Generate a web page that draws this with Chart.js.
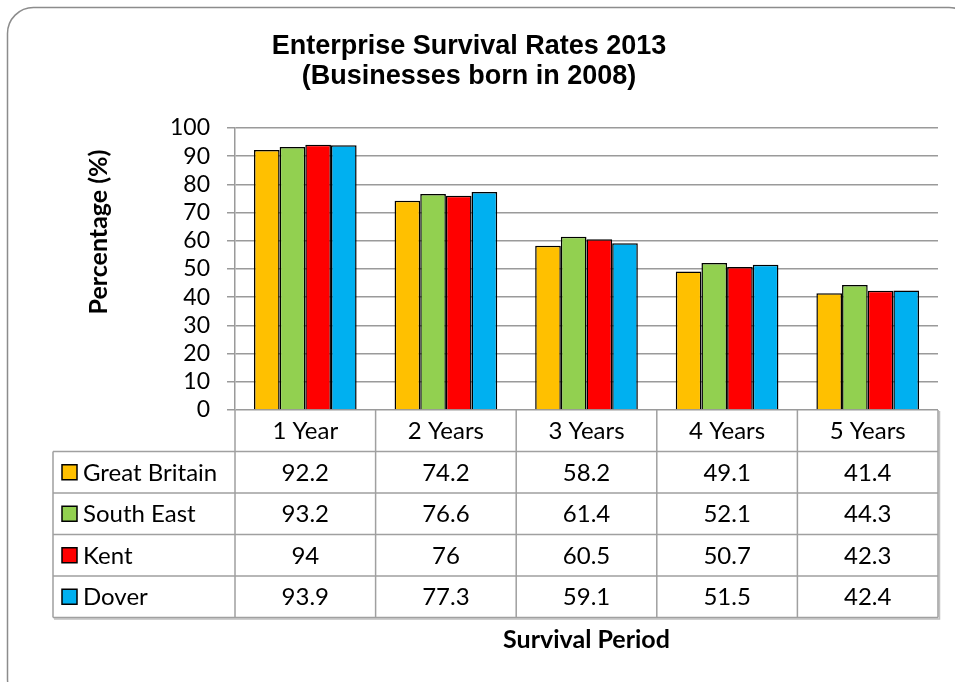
<!DOCTYPE html>
<html>
<head>
<meta charset="utf-8">
<script src="https://cdn.jsdelivr.net/npm/chart.js@4"></script>
<style>
html,body{margin:0;padding:0;background:#fff;}
canvas{display:block;}
</style>
</head>
<body>
<canvas id="c" width="955" height="682"></canvas>
<script>
const categories = ['1 Year', '2 Years', '3 Years', '4 Years', '5 Years'];
const seriesNames = ['Great Britain', 'South East', 'Kent', 'Dover'];
const greatBritain = [92.2, 74.2, 58.2, 49.1, 41.4];
const southEast = [93.2, 76.6, 61.4, 52.1, 44.3];
const kent = [94, 76, 60.5, 50.7, 42.3];
const dover = [93.9, 77.3, 59.1, 51.5, 42.4];
const seriesColors = ['#FFC000', '#92D050', '#FF0000', '#00B0F0'];
const titleLines = ['Enterprise Survival Rates 2013', '(Businesses born in 2008)'];
const yAxisTitle = 'Percentage (%)';
const xAxisTitle = 'Survival Period';

const BODY_FONT = 'Lato, "Open Sans", sans-serif';
const LINE = '#a0a0a0';

const tablePlugin = {
  id: 'tablePlugin',
  beforeDraw(chart) {
    const ctx = chart.ctx;
    ctx.save();
    ctx.strokeStyle = '#8c8c8c';
    ctx.lineWidth = 1.5;
    const x0 = 7.5, y0 = 7.5, x1 = 975, y1 = 705, r = 26;
    ctx.beginPath();
    ctx.moveTo(x0 + r, y0);
    ctx.lineTo(x1 - r, y0);
    ctx.arcTo(x1, y0, x1, y0 + r, r);
    ctx.lineTo(x1, y1 - r);
    ctx.arcTo(x1, y1, x1 - r, y1, r);
    ctx.lineTo(x0 + r, y1);
    ctx.arcTo(x0, y1, x0, y1 - r, r);
    ctx.lineTo(x0, y0 + r);
    ctx.arcTo(x0, y0, x0 + r, y0, r);
    ctx.closePath();
    ctx.stroke();
    ctx.restore();
  },
  afterDraw(chart) {
    const ctx = chart.ctx;
    const area = chart.chartArea;
    const xs = chart.scales.x;
    const n = categories.length;
    const rowH = 41.5;
    const top = area.bottom;
    const legendLeft = 53;
    const headerBottom = top + rowH;
    const tableBottom = headerBottom + rowH * seriesNames.length;
    const bounds = [area.left];
    for (let i = 0; i < n - 1; i++) {
      bounds.push((xs.getPixelForValue(i) + xs.getPixelForValue(i + 1)) / 2);
    }
    bounds.push(area.right);

    ctx.save();
    ctx.strokeStyle = LINE;
    ctx.lineWidth = 1.5;
    ctx.beginPath();
    for (let r = 0; r <= seriesNames.length; r++) {
      const y = headerBottom + r * rowH;
      ctx.moveTo(legendLeft, y);
      ctx.lineTo(area.right, y);
    }
    ctx.moveTo(legendLeft, headerBottom);
    ctx.lineTo(legendLeft, tableBottom);
    bounds.forEach(b => {
      ctx.moveTo(b, top);
      ctx.lineTo(b, tableBottom);
    });
    ctx.stroke();
    // subtle shadow on right / bottom edge
    ctx.strokeStyle = 'rgba(150,150,150,0.6)';
    ctx.lineWidth = 1.5;
    ctx.beginPath();
    ctx.moveTo(area.right + 1.5, top + 1);
    ctx.lineTo(area.right + 1.5, tableBottom + 1.5);
    ctx.lineTo(legendLeft + 1, tableBottom + 1.5);
    ctx.stroke();

    ctx.fillStyle = '#000';
    ctx.font = '24px ' + BODY_FONT;
    ctx.textAlign = 'center';
    ctx.textBaseline = 'middle';
    for (let i = 0; i < n; i++) {
      const cx = xs.getPixelForValue(i);
      ctx.fillText(categories[i], cx, top + rowH / 2 + 1);
      chart.data.datasets.forEach((ds, r) => {
        const cy = headerBottom + r * rowH + rowH / 2 + 1;
        ctx.fillText(String(ds.data[i]), cx, cy);
      });
    }
    chart.data.datasets.forEach((ds, r) => {
      const cy = headerBottom + r * rowH + rowH / 2;
      ctx.fillStyle = ds.backgroundColor;
      ctx.fillRect(62, cy - 7.5, 15, 15);
      ctx.strokeStyle = '#000';
      ctx.lineWidth = 1.5;
      ctx.strokeRect(62, cy - 7.5, 15, 15);
      ctx.fillStyle = '#000';
      ctx.textAlign = 'left';
      ctx.fillText(ds.label, 83, cy + 1);
    });

    ctx.font = 'bold 25px ' + BODY_FONT;
    ctx.textAlign = 'center';
    ctx.fillText(xAxisTitle, (area.left + area.right) / 2, 640);
    ctx.translate(99, 232);
    ctx.rotate(-Math.PI / 2);
    ctx.fillText(yAxisTitle, 0, 0);
    ctx.restore();
  }
};

new Chart(document.getElementById('c'), {
  type: 'bar',
  data: {
    labels: categories,
    datasets: [
      { label: seriesNames[0], data: greatBritain, backgroundColor: seriesColors[0] },
      { label: seriesNames[1], data: southEast, backgroundColor: seriesColors[1] },
      { label: seriesNames[2], data: kent, backgroundColor: seriesColors[2] },
      { label: seriesNames[3], data: dover, backgroundColor: seriesColors[3] }
    ]
  },
  options: {
    responsive: false,
    animation: false,
    devicePixelRatio: 1,
    layout: { padding: { top: 0, left: 0, right: 17, bottom: 272 } },
    datasets: {
      bar: {
        categoryPercentage: 0.73,
        barPercentage: 1.0,
        borderColor: '#000',
        borderWidth: 1.5,
        borderSkipped: 'start'
      }
    },
    plugins: {
      legend: { display: false },
      tooltip: { enabled: false },
      title: {
        display: true,
        text: titleLines,
        color: '#000',
        font: { family: '"Liberation Sans", Arial, sans-serif', size: 27, weight: 'bold', lineHeight: 1.11 },
        padding: { top: 32, bottom: 36 }
      }
    },
    scales: {
      x: { display: false, offset: true },
      y: {
        min: 0,
        max: 100,
        afterFit(scale) { scale.width = 235; },
        border: { display: true, color: '#9a9a9a', width: 1.5 },
        grid: { color: '#9a9a9a', lineWidth: 1.5, tickLength: 8, drawTicks: true },
        ticks: {
          stepSize: 10,
          autoSkip: false,
          padding: 17,
          color: '#000',
          font: { family: BODY_FONT, size: 23 }
        }
      }
    }
  },
  plugins: [tablePlugin]
});
</script>
</body>
</html>
